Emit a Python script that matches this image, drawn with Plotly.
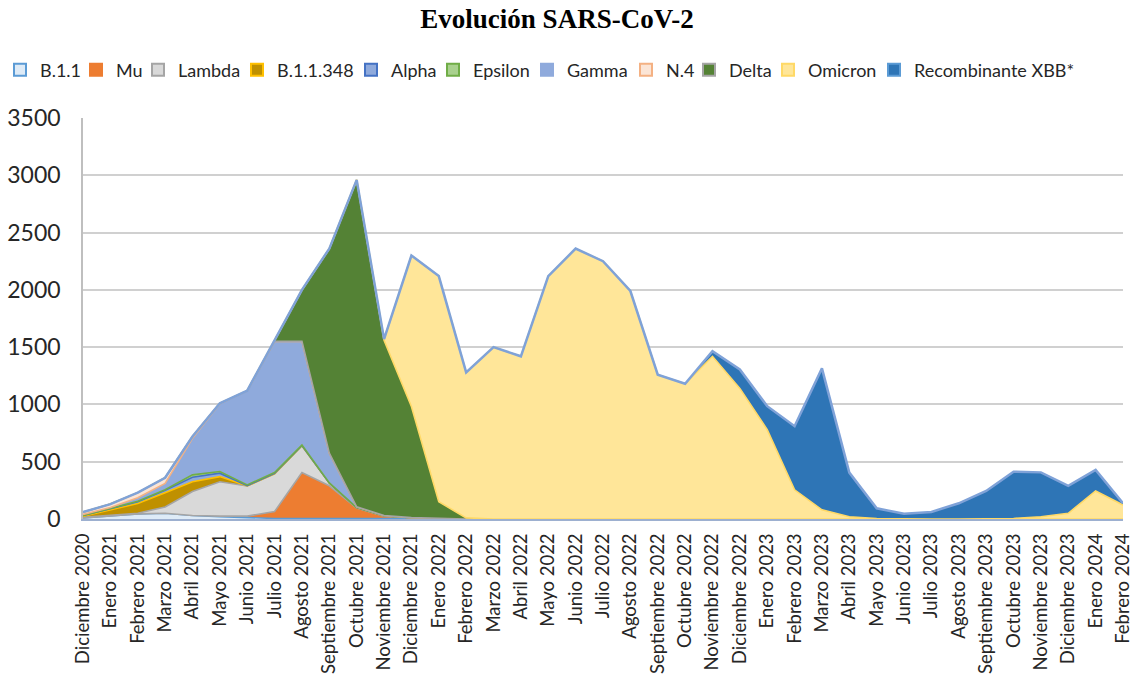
import plotly.graph_objects as go

months = [
    "Diciembre 2020", "Enero 2021", "Febrero 2021", "Marzo 2021", "Abril 2021", "Mayo 2021",
    "Junio 2021", "Julio 2021", "Agosto 2021", "Septiembre 2021", "Octubre 2021",
    "Noviembre 2021", "Diciembre 2021", "Enero 2022", "Febrero 2022", "Marzo 2022",
    "Abril 2022", "Mayo 2022", "Junio 2022", "Julio 2022", "Agosto 2022",
    "Septiembre 2022", "Octubre 2022", "Noviembre 2022", "Diciembre 2022", "Enero 2023",
    "Febrero 2023", "Marzo 2023", "Abril 2023", "Mayo 2023", "Junio 2023", "Julio 2023",
    "Agosto 2023", "Septiembre 2023", "Octubre 2023", "Noviembre 2023", "Diciembre 2023",
    "Enero 2024", "Febrero 2024",
]

b11 =      [10, 30, 45, 50, 30, 20, 10, 5, 5, 5, 5, 3, 2, 2, 0, 0, 0, 0, 0, 0, 0, 0, 0, 0, 0, 0, 0, 0, 0, 0, 0, 0, 0, 0, 0, 0, 0, 0, 0]
mu =       [0, 0, 0, 0, 0, 5, 15, 60, 400, 285, 90, 22, 8, 3, 0, 0, 0, 0, 0, 0, 0, 0, 0, 0, 0, 0, 0, 0, 0, 0, 0, 0, 0, 0, 0, 0, 0, 0, 0]
lambda_ =  [5, 5, 5, 55, 210, 300, 263, 330, 235, 25, 5, 3, 2, 0, 0, 0, 0, 0, 0, 0, 0, 0, 0, 0, 0, 0, 0, 0, 0, 0, 0, 0, 0, 0, 0, 0, 0, 0, 0]
b11348 =   [10, 45, 85, 125, 85, 45, 0, 0, 0, 0, 0, 0, 0, 0, 0, 0, 0, 0, 0, 0, 0, 0, 0, 0, 0, 0, 0, 0, 0, 0, 0, 0, 0, 0, 0, 0, 0, 0, 0]
alpha =    [5, 10, 15, 20, 40, 30, 3, 3, 2, 0, 0, 0, 0, 0, 0, 0, 0, 0, 0, 0, 0, 0, 0, 0, 0, 0, 0, 0, 0, 0, 0, 0, 0, 0, 0, 0, 0, 0, 0]
epsilon =  [0, 2, 5, 5, 20, 15, 7, 7, 3, 0, 0, 0, 0, 0, 0, 0, 0, 0, 0, 0, 0, 0, 0, 0, 0, 0, 0, 0, 0, 0, 0, 0, 0, 0, 0, 0, 0, 0, 0]
gamma =    [10, 8, 30, 55, 320, 590, 820, 1145, 905, 260, 7, 2, 0, 0, 0, 0, 0, 0, 0, 0, 0, 0, 0, 0, 0, 0, 0, 0, 0, 0, 0, 0, 0, 0, 0, 0, 0, 0, 0]
n4 =       [20, 30, 45, 50, 15, 5, 2, 0, 0, 0, 0, 0, 0, 0, 0, 0, 0, 0, 0, 0, 0, 0, 0, 0, 0, 0, 0, 0, 0, 0, 0, 0, 0, 0, 0, 0, 0, 0, 0]
delta =    [0, 0, 0, 0, 0, 0, 0, 10, 450, 1785, 2853, 1530, 970, 145, 10, 0, 0, 0, 0, 0, 0, 0, 0, 0, 0, 0, 0, 0, 0, 0, 0, 0, 0, 0, 0, 0, 0, 0, 0]
omicron =  [0, 0, 0, 0, 0, 0, 0, 0, 0, 0, 0, 10, 1318, 1970, 1270, 1500, 1420, 2120, 2360, 2250, 1990, 1260, 1180, 1420, 1140, 780, 255, 80, 20, 5, 0, 0, 0, 0, 5, 20, 50, 245, 122]
xbb =      [0, 0, 0, 0, 0, 0, 0, 0, 0, 0, 0, 0, 0, 0, 0, 0, 0, 0, 0, 0, 0, 0, 0, 45, 165, 205, 555, 1235, 385, 88, 45, 62, 137, 245, 408, 387, 240, 183, 15]

y_ticks = [0, 500, 1000, 1500, 2000, 2500, 3000, 3500]

# name, values, fill colour, outline colour in the chart, outline colour of legend swatch
series = [
    ("B.1.1", b11, "#DEEBF7", "#5B9BD5", "#5B9BD5"),
    ("Mu", mu, "#ED7D31", "#A5A5A5", "#ED7D31"),
    ("Lambda", lambda_, "#D9D9D9", "#A5A5A5", "#A5A5A5"),
    ("B.1.1.348", b11348, "#BF9000", "#FFC000", "#FFC000"),
    ("Alpha", alpha, "#8FAADC", "#4472C4", "#4472C4"),
    ("Epsilon", epsilon, "#A9D18E", "#70AD47", "#70AD47"),
    ("Gamma", gamma, "#8FAADC", "#F4B183", "#8FAADC"),
    ("N.4", n4, "#FBE5D6", "#A5A5A5", "#F4B183"),
    ("Delta", delta, "#548235", "#FFD966", "#A5A5A5"),
    ("Omicron", omicron, "#FFE699", "#FFD966", "#FFD966"),
    ("Recombinante XBB*", xbb, "#2E75B6", "#7FA2D8", "#5B9BD5"),
]

# left edge of each legend entry's text, in pixels of the 1141-px-wide page
legend_text_x = [35, 112, 174, 273, 387, 469, 563, 662, 725, 804, 910]

fig = go.Figure()
x_idx = list(range(len(months)))
for name, vals, fill, line, _ in series:
    fig.add_trace(go.Scatter(
        x=x_idx, y=vals, name=name, mode="lines",
        stackgroup="one", fillcolor=fill, legendgroup=name, showlegend=False,
        line=dict(color=line, width=2.5 if name == "Recombinante XBB*" else 1.6),
    ))

legends = {}
for i, (name, vals, fill, line, sw_line) in enumerate(series):
    key = "legend" if i == 0 else f"legend{i + 1}"
    fig.add_trace(go.Scatter(
        x=[None], y=[None], mode="markers", name=name, legendgroup=name,
        legend=key, showlegend=True, hoverinfo="skip",
        marker=dict(symbol="square", size=12, color=fill,
                    line=dict(color=sw_line, width=2)),
    ))
    legends[key] = dict(
        orientation="h", xref="container", yref="container",
        x=max(legend_text_x[i] - 36, 0) / 1141, y=1 - 70 / 677,
        xanchor="left", yanchor="middle", bgcolor="rgba(0,0,0,0)",
        font=dict(family="Lato", size=18, color="#262626"),
        itemwidth=30,
    )

fig.update_layout(
    width=1141, height=677,
    margin=dict(l=83, r=18, t=118, b=158, autoexpand=False),
    paper_bgcolor="white", plot_bgcolor="white",
    title=dict(text="<b>Evolución SARS-CoV-2</b>", x=557 / 1141, xanchor="center",
               y=1 - 19 / 677, yanchor="middle",
               font=dict(family="Liberation Serif", size=27, color="#000000")),
    showlegend=True,
    **legends,
)
fig.update_xaxes(
    range=[0, len(months) - 1], tickmode="array",
    tickvals=x_idx, ticktext=months, tickangle=-90,
    tickfont=dict(family="Lato", size=18.5, color="#262626"),
    showgrid=False, showline=True, linecolor="#9DB0D0", linewidth=2,
    ticks="", zeroline=False, automargin=False, ticklabelstandoff=5,
)
fig.update_yaxes(
    range=[0, 3500], tickmode="array", tickvals=y_ticks,
    tickfont=dict(family="Lato", size=23, color="#262626"),
    showgrid=True, gridcolor="#D0D0D0", gridwidth=1.5,
    showline=True, linecolor="#BFBFBF", linewidth=1.5,
    ticks="", zeroline=False, ticklabelstandoff=16, automargin=False,
)

fig.write_html(
    "out.html",
    config={"displayModeBar": False},
    post_script="document.body.style.margin='0px';document.body.style.padding='0px';",
)
